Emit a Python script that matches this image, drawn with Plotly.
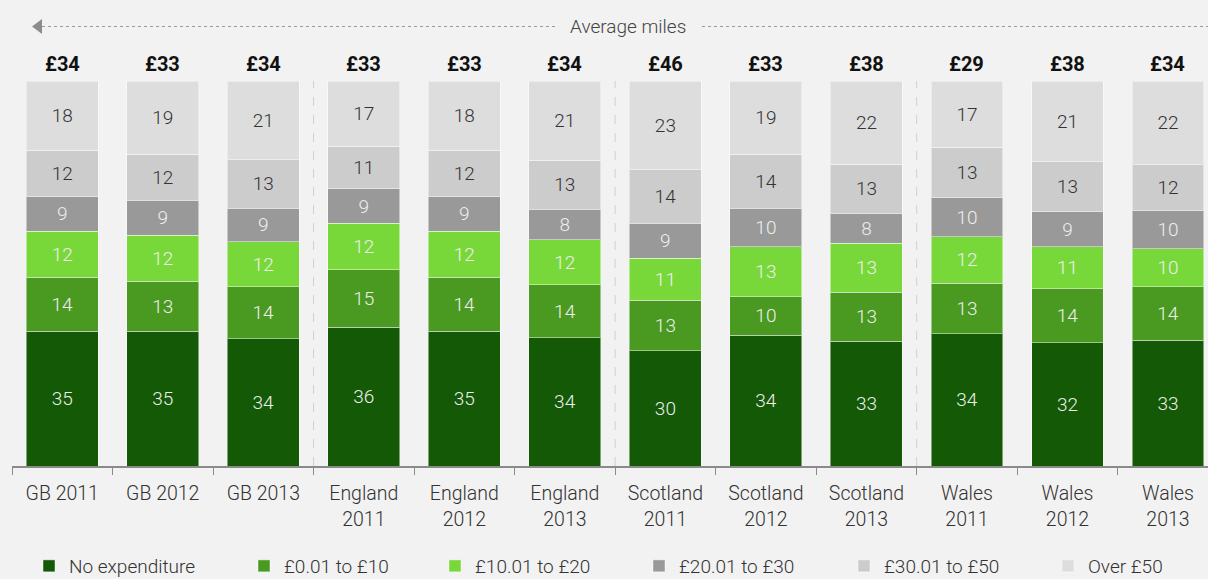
import plotly.graph_objects as go

categories = ["GB 2011", "GB 2012", "GB 2013", "England<br>2011", "England<br>2012", "England<br>2013",
              "Scotland<br>2011", "Scotland<br>2012", "Scotland<br>2013", "Wales<br>2011", "Wales<br>2012", "Wales<br>2013"]
avg_spend = [34, 33, 34, 33, 33, 34, 46, 33, 38, 29, 38, 34]

series_names = ["No expenditure", "£0.01 to £10", "£10.01 to £20", "£20.01 to £30", "£30.01 to £50", "Over £50"]
no_expenditure = [35, 35, 34, 36, 35, 34, 30, 34, 33, 34, 32, 33]
up_to_10 = [14, 13, 14, 15, 14, 14, 13, 10, 13, 13, 14, 14]
from_10_to_20 = [12, 12, 12, 12, 12, 12, 11, 13, 13, 12, 11, 10]
from_20_to_30 = [9, 9, 9, 9, 9, 8, 9, 10, 8, 10, 9, 10]
from_30_to_50 = [12, 12, 13, 11, 12, 13, 14, 14, 13, 13, 13, 12]
over_50 = [18, 19, 21, 17, 18, 21, 23, 19, 22, 17, 21, 22]

series_values = [no_expenditure, up_to_10, from_10_to_20, from_20_to_30, from_30_to_50, over_50]
colors = ["#145a06", "#4a9a22", "#78d83a", "#999999", "#cccccc", "#dddddd"]
text_colors = ["#eeeeee", "#eeeeee", "#eeeeee", "#eeeeee", "#333333", "#333333"]

FONT = "Roboto"
BG = "#f2f2f2"
FS = 19

W, L, T, PB = 1196, 12, 81, 466
def px_x(p):
    return (p - L) / W
def px_y(p):
    return (PB - p) / (PB - T)

legend_text_x = [67, 282, 473, 677, 882, 1086]

fig = go.Figure()
for i, (name, vals, col, tcol) in enumerate(zip(series_names, series_values, colors, text_colors)):
    fig.add_trace(go.Bar(
        x=categories, y=vals, name=name,
        legend="legend" if i == 0 else f"legend{i + 1}",
        marker=dict(color=col, line=dict(color="rgba(255,255,255,0.45)", width=1)),
        text=[str(v) for v in vals], textposition="inside", insidetextanchor="middle",
        textfont=dict(family=FONT, size=FS, color=tcol, weight=300),
        constraintext="none", hoverinfo="skip",
    ))

# totals above bars
for c, v in zip(categories, avg_spend):
    fig.add_annotation(x=c, y=100, xref="x", yref="y", text=f"<b>£{v}</b>", showarrow=False,
                       yanchor="bottom", yshift=3, font=dict(family=FONT, size=20, color="#111111"))

# group dividers
for xv in [2.5, 5.5, 8.5]:
    fig.add_shape(type="line", xref="x", yref="paper", x0=xv, x1=xv, y0=0, y1=1.0,
                  line=dict(color="#cfcfcf", width=1, dash="dash"), layer="below")

# top "Average miles" arrow line
fig.add_shape(type="line", xref="paper", yref="paper", x0=px_x(42), x1=px_x(555), y0=px_y(26.5), y1=px_y(26.5),
              line=dict(color="#9a9a9a", width=1, dash="dot"))
fig.add_shape(type="line", xref="paper", yref="paper", x0=px_x(702), x1=px_x(1208), y0=px_y(26.5), y1=px_y(26.5),
              line=dict(color="#9a9a9a", width=1, dash="dot"))
fig.add_shape(type="path", xref="paper", yref="paper",
              path=f"M {px_x(32)} {px_y(26.5)} L {px_x(42)} {px_y(19)} L {px_x(42)} {px_y(34)} Z",
              fillcolor="#8c8c8c", line=dict(width=0))
fig.add_annotation(x=px_x(628), y=px_y(26.5), xref="paper", yref="paper", text="Average miles",
                   showarrow=False, xanchor="center", yanchor="middle",
                   font=dict(family=FONT, size=FS, color="#444444", weight=300))

legends = {}
for i, tx in enumerate(legend_text_x):
    key = "legend" if i == 0 else f"legend{i + 1}"
    legends[key] = dict(orientation="h", x=px_x(tx - 38), xanchor="left", y=px_y(566), yanchor="middle",
                        itemwidth=30, font=dict(family=FONT, size=FS, color="#333333", weight=300),
                        bgcolor="rgba(0,0,0,0)", borderwidth=0)

fig.update_layout(
    width=1208, height=579,
    barmode="stack", barnorm="percent", bargap=0.285,
    paper_bgcolor=BG, plot_bgcolor=BG,
    margin=dict(l=L, r=0, t=T, b=579 - PB, autoexpand=False),
    font=dict(family=FONT, size=FS, color="#333333", weight=300),
    showlegend=True,
    uniformtext=dict(minsize=8, mode="show"),
    **legends,
)
fig.update_xaxes(range=[-0.5, 11.398], showline=True, linecolor="#8a8a8a", linewidth=2,
                 ticks="outside", tickson="boundaries", ticklen=7, tickcolor="#8a8a8a", tickwidth=1,
                 tickfont=dict(family=FONT, size=19.5, color="#333333", weight=300), ticklabelstandoff=9,
                 showgrid=False, zeroline=False, fixedrange=True)
fig.update_yaxes(range=[0, 100], visible=False, showgrid=False, zeroline=False, fixedrange=True)

fig.write_html("out.html", config={"displayModeBar": False},
               post_script="document.body.style.margin='0';document.body.style.overflow='hidden';"
                           "document.body.style.background='#f2f2f2';")
